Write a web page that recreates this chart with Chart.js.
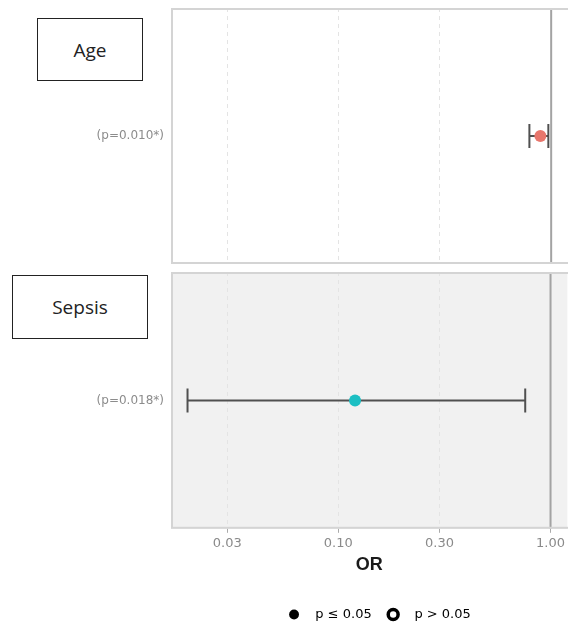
<!DOCTYPE html>
<html>
<head>
<meta charset="utf-8">
<script src="https://cdn.jsdelivr.net/npm/chart.js@4/dist/chart.umd.min.js"></script>
<style>
  body { margin: 0; background: #fff; }
  #wrap { position: relative; width: 568px; height: 628px; overflow: hidden; }
  .panel { position: absolute; left: 0; width: 568px; }
  #top { top: 0; height: 264px; }
  #bottom { top: 268px; height: 363px; }
  .tag {
    position: absolute; border: 1.5px solid #222; background: #fff;
    font-family: "Open Sans", "Liberation Sans", sans-serif; font-size: 19px; color: #222;
    display: flex; align-items: center; justify-content: center; box-sizing: border-box;
  }
</style>
</head>
<body>
<div id="wrap">
  <div class="panel" id="top"><canvas id="chartTop"></canvas></div>
  <div class="panel" id="bottom"><canvas id="chartBottom"></canvas></div>
  <div class="tag" style="left:37px;top:18px;width:106px;height:63px;">Age</div>
  <div class="tag" style="left:12px;top:275px;width:136px;height:64px;">Sepsis</div>
</div>
<script>
  // data
  var categories = ['Age', 'Sepsis'];
  var pLabels = ['(p=0.010*)', '(p=0.018*)'];
  var orValues = [0.89, 0.12];
  var ciLower = [0.79, 0.0195];
  var ciUpper = [0.97, 0.76];
  var pointColors = ['#e8766c', '#1cbfc3'];
  var panelBg = ['#ffffff', '#f1f1f1'];
  var xTicks = [0.03, 0.1, 0.3, 1];
  var legendLabels = ['p \u2264 0.05', 'p > 0.05'];

  var FONT = '"DejaVu Sans", "Liberation Sans", sans-serif';

  // panel background + frame
  var panelPlugin = {
    id: 'panel',
    afterLayout: function (chart) {
      // legend sits a bit right of centre in the original
      if (chart.legend && chart.legend.options.display) {
        chart.legend.left += 10;
        chart.legend.right += 10;
      }
    },
    beforeDraw: function (chart, args, opts) {
      var a = chart.chartArea, ctx = chart.ctx;
      ctx.save();
      ctx.fillStyle = opts.bg;
      ctx.fillRect(a.left, a.top, a.right - a.left, a.bottom - a.top);
      ctx.restore();
    },
    afterDraw: function (chart) {
      var a = chart.chartArea, ctx = chart.ctx;
      ctx.save();
      ctx.strokeStyle = '#d4d4d4';
      ctx.lineWidth = 2;
      ctx.strokeRect(a.left + 1, a.top + 1, a.right - a.left + 4, a.bottom - a.top - 2);
      ctx.restore();
    }
  };

  function makeChart(id, i, isBottom) {
    var ctx = document.getElementById(id).getContext('2d');
    return new Chart(ctx, {
      type: 'scatter',
      data: {
        datasets: [{
          label: categories[i],
          data: [{ x: orValues[i], y: 0.5 }],
          backgroundColor: pointColors[i],
          borderWidth: 0,
          pointRadius: 6,
          order: 1
        },
        {
          label: categories[i] + ' CI',
          type: 'line',
          data: [{ x: ciLower[i], y: 0.5 }, { x: ciUpper[i], y: 0.5 }],
          borderColor: '#505050',
          borderWidth: 2,
          pointStyle: 'line',
          rotation: 90,
          pointRadius: 12,
          pointBorderWidth: 2,
          pointBorderColor: '#505050',
          order: 2
        },
        {
          label: 'ref',
          type: 'line',
          data: [{ x: 1, y: 0 }, { x: 1, y: 1 }],
          borderColor: '#a3a3a3',
          borderWidth: 2,
          pointRadius: 0,
          order: 3
        }]
      },
      options: {
        responsive: true,
        maintainAspectRatio: false,
        animation: false,
        layout: {
          autoPadding: false,
          padding: { top: isBottom ? 4 : 8, right: 0, left: 0, bottom: 0 }
        },
        plugins: {
          panel: { bg: panelBg[i] },
          tooltip: { enabled: false },
          legend: {
            display: isBottom,
            position: 'bottom',
            fullSize: false,
            onClick: null,
            labels: {
              usePointStyle: true,
              boxHeight: 7,
              padding: 15,
              color: '#555',
              font: { family: FONT, size: 13 },
              generateLabels: function () {
                return legendLabels.map(function (t, k) {
                  return {
                    text: '  ' + t,
                    fillStyle: k === 0 ? '#000' : '#fff',
                    strokeStyle: '#000',
                    lineWidth: k === 0 ? 0 : 3.5,
                    pointStyle: 'circle',
                    hidden: false,
                    datasetIndex: k
                  };
                });
              }
            }
          }
        },
        scales: {
          x: {
            type: 'logarithmic',
            min: 0.0163,
            max: 1.2,
            afterBuildTicks: function (scale) {
              scale.ticks = xTicks.map(function (v) { return { value: v }; });
            },
            afterFit: function (scale) {
              if (!isBottom) scale.height = 0;
            },
            grid: {
              color: '#e4e4e4',
              lineWidth: 1,
              drawTicks: isBottom,
              tickLength: 4,
              tickColor: '#aaa',
              tickBorderDash: [0, 0]
            },
            border: { display: false, dash: [4, 4] },
            ticks: {
              display: isBottom,
              color: '#8a8a8a',
              font: { family: FONT, size: 13 },
              padding: 3,
              maxRotation: 0,
              callback: function (v) { return Number(v).toFixed(2); }
            },
            title: {
              display: isBottom,
              text: 'OR',
              color: '#1a1a1a',
              font: { family: '"Liberation Sans", Arial, sans-serif', size: 18, weight: 'bold' },
              padding: { top: 0, bottom: 17 }
            }
          },
          y: {
            min: 0,
            max: 1,
            afterBuildTicks: function (scale) {
              scale.ticks = [{ value: 0.5 }];
            },
            afterFit: function (scale) {
              scale.width = 171;
              scale.paddingTop = 0;
              scale.paddingBottom = 0;
            },
            grid: { display: false, drawTicks: false },
            border: { display: false },
            ticks: {
              color: '#8c8c8c',
              font: { family: FONT, size: 12 },
              padding: 7,
              callback: function () { return pLabels[i]; }
            }
          }
        }
      },
      plugins: [panelPlugin]
    });
  }

  var chartTop = makeChart('chartTop', 0, false);
  var chartBottom = makeChart('chartBottom', 1, true);
</script>
</body>
</html>
